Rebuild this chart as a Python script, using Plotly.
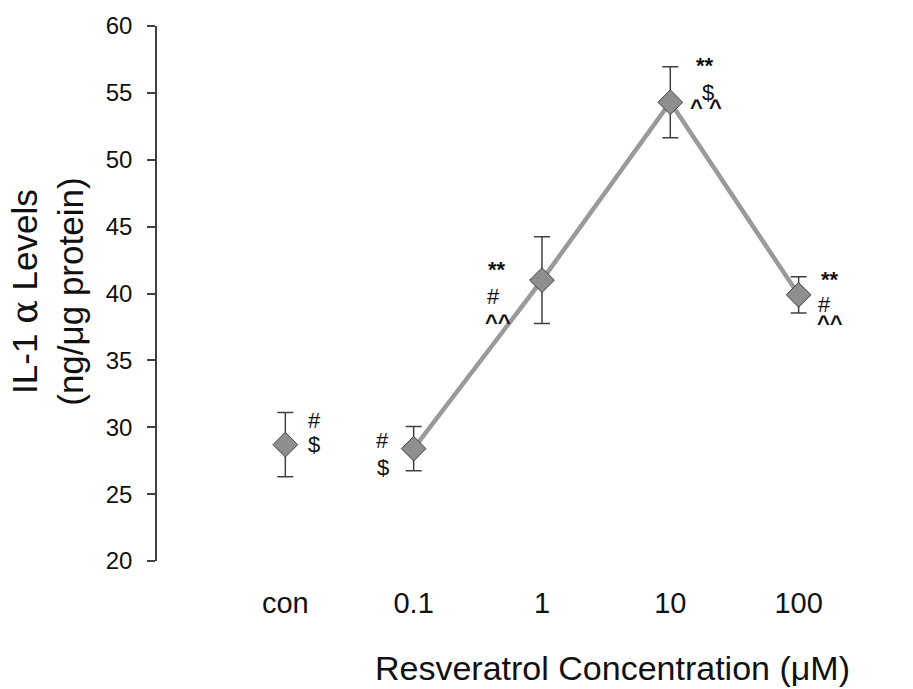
import plotly.graph_objects as go

categories = ["con", "0.1", "1", "10", "100"]
il1a_mean = [28.7, 28.4, 41.0, 54.3, 39.9]
il1a_err = [2.4, 1.65, 3.25, 2.65, 1.35]
y_ticks = [20, 25, 30, 35, 40, 45, 50, 55, 60]

# significance marks: (category index, text, x pixel offset, y pixel offset)
marks = [
    (0, "#", 29, 24), (0, "$", 29, 0),
    (1, "#", -31, 8), (1, "$", -31, -19),
    (2, "<b>**</b>", -45, 11), (2, "#", -48, -16), (2, "<b>^^</b>", -44, -42),
    (3, "<b>**</b>", 35, 37), (3, "<b>^ ^</b>", 36, -5), (3, "$", 38, 10),
    (4, "<b>**</b>", 31, 15), (4, "#", 26, -10), (4, "<b>^^</b>", 31, -29),
]

FONT = "Liberation Sans, Arial, sans-serif"
xs = list(range(len(categories)))

fig = go.Figure()
# connecting line for the resveratrol doses (not control)
fig.add_trace(go.Scatter(
    x=xs[1:], y=il1a_mean[1:], mode="lines",
    line=dict(color="#9a9a9a", width=4.5), hoverinfo="skip", showlegend=False))
fig.add_trace(go.Scatter(
    x=xs, y=il1a_mean, mode="markers",
    marker=dict(symbol="diamond", size=19, color="#8e8e8e",
                line=dict(color="#404040", width=1)),
    error_y=dict(type="data", array=il1a_err, visible=True,
                 color="#404040", thickness=1.5, width=8),
    showlegend=False))

annotations = []
for idx, txt, dx, dy in marks:
    annotations.append(dict(
        x=xs[idx], y=il1a_mean[idx], xref="x", yref="y", text=txt,
        showarrow=False, xshift=dx, yshift=dy,
        font=dict(family=FONT, size=22, color="#111111")))

# x-axis title (offset to the right in the original)
annotations.append(dict(
    x=612, y=669, xref="paper", yref="paper", text="Resveratrol Concentration (\u03bcM)",
    showarrow=False, font=dict(family=FONT, size=34, color="#111111")))
# y-axis title
annotations.append(dict(
    x=48, y=290, xref="paper", yref="paper",
    text="IL-1 <span style='font-family:DejaVu Serif'>\u03b1</span> Levels<br>(ng/\u03bcg protein)",
    textangle=-90, showarrow=False,
    font=dict(family=FONT, size=35, color="#111111")))

W, H = 913, 689
L, T, R, B = 157, 22.5, 13, 128
pw, ph = W - L - R, H - T - B
# convert pixel positions of titles into paper coordinates
for a in annotations[-2:]:
    a["x"] = (a["x"] - L) / pw
    a["y"] = (H - B - a["y"]) / ph
    a["xanchor"] = "center"
    a["yanchor"] = "middle"

fig.update_layout(
    width=W, height=H,
    margin=dict(l=L, r=R, t=T, b=B, pad=0),
    plot_bgcolor="white", paper_bgcolor="white",
    font=dict(family=FONT, color="#111111"),
    annotations=annotations,
    hovermode=False,
    xaxis=dict(
        range=[-1, 4.79], tickmode="array", tickvals=xs, ticktext=categories,
        showline=False, showgrid=False, zeroline=False, ticks="",
        ticklabelstandoff=22,
        tickfont=dict(size=29, family=FONT, color="#111111")),
    yaxis=dict(
        range=[20, 60], tickmode="array", tickvals=y_ticks,
        showline=True, linecolor="#404040", linewidth=1.5,
        ticks="outside", ticklen=8, tickwidth=1.5, tickcolor="#404040",
        ticklabelstandoff=10,
        showgrid=False, zeroline=False,
        tickfont=dict(size=24, family=FONT, color="#111111")),
)

fig.write_html("out.html", config={"displayModeBar": False},
               post_script="document.body.style.margin='0';document.body.style.overflow='hidden';")
